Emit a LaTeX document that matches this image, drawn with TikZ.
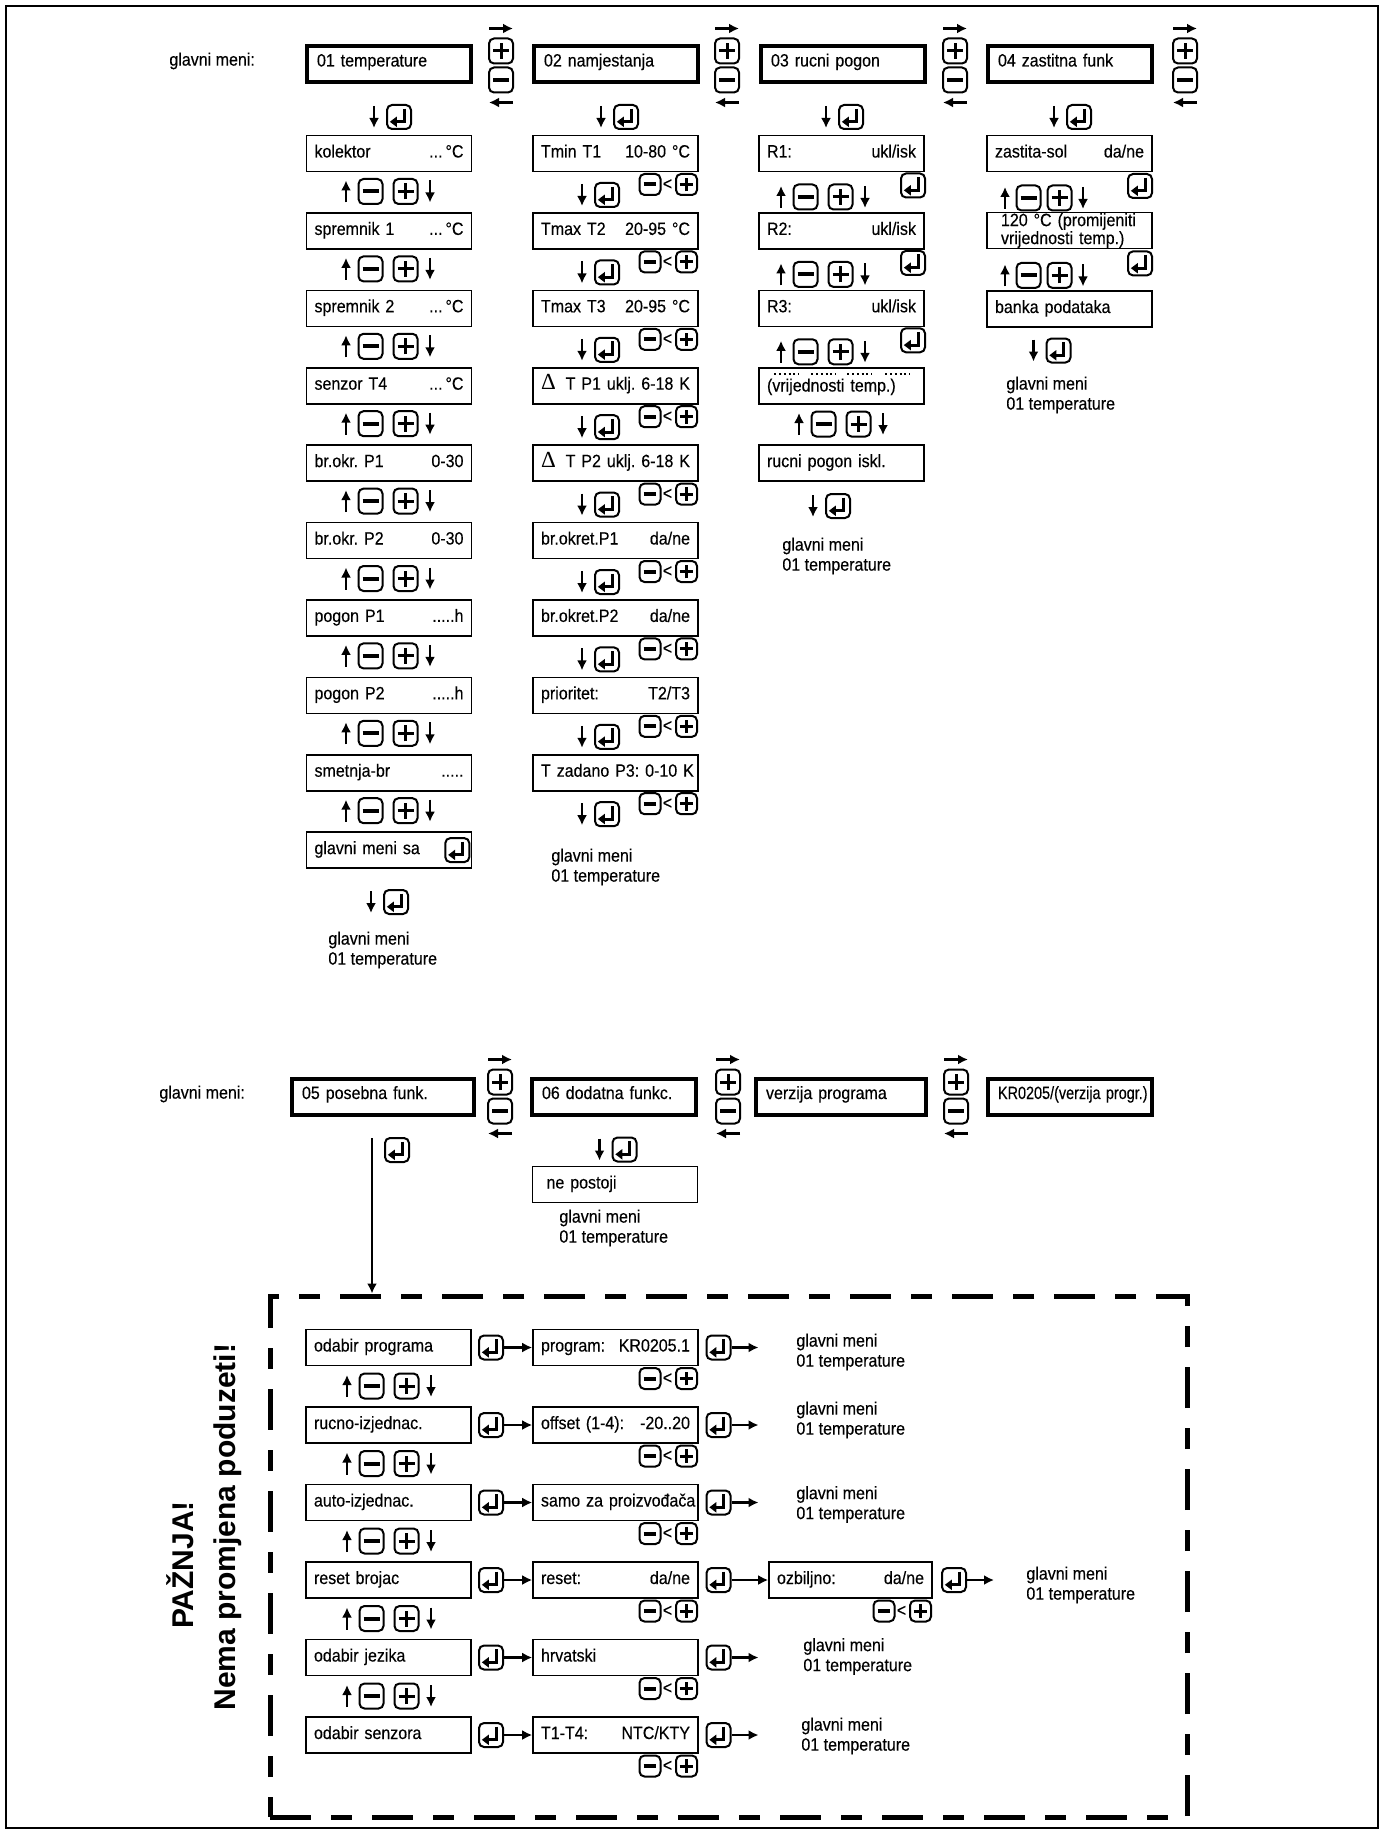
\documentclass[tikz,border=0pt]{standalone}
\usepackage{fontspec}
\setmainfont{Liberation Sans}[FakeStretch=0.9,FakeBold=0.3]
\newfontfamily\warnfont{Liberation Sans}
\newfontfamily\deltafont{Liberation Serif}
\usepackage{graphicx}
\usetikzlibrary{arrows.meta,calc}
\newcommand\threedots{...}
\newcommand\fivedots{.....}
\newcommand\dlt{{\deltafont\fontsize{11.5}{10}\selectfont Δ}}
\frenchspacing

\begin{document}
\begin{tikzpicture}[x=0.5pt,y=-0.5pt,
    font=\fontsize{8.9}{10}\selectfont,
    arr/.style={line width=1.1pt,-{Latex[length=5pt,width=5pt]}},
    btn/.style={draw,line width=1pt,rounded corners=2.5pt,inner sep=0pt,
      minimum width=12pt,minimum height=12.5pt},
    sbtn/.style={btn,minimum width=10.5pt,minimum height=10.5pt},
    plusmark/.style={path picture={\draw[line width=1.5pt,shift={(path picture bounding box.center)}]
      (-#1,0pt) -- (#1,0pt) (0pt,-#1) -- (0pt,#1);}},
    minusmark/.style={path picture={\draw[line width=2pt,shift={(path picture bounding box.center)}]
      (-#1,0pt) -- (#1,0pt);}},
    pluskey/.style={btn,plusmark=4pt},
    minuskey/.style={btn,minusmark=4pt},
    spluskey/.style={sbtn,plusmark=3.4pt},
    sminuskey/.style={sbtn,minusmark=3.2pt},
    enterkey/.style={btn,minimum height=12pt,path picture={\draw[line width=1.5pt,sharp corners,
      -{Triangle[length=3.5pt,width=5pt]},shift={(path picture bounding box.center)}]
      (2.6pt,4.2pt) -- (2.6pt,-2.4pt) -- (-4.6pt,-2.4pt);}},
    mainbox/.style={draw,line width=2pt,minimum width=82pt,minimum height=18pt,
      inner xsep=5pt,inner ysep=0pt,text width=72pt,align=left,text height=6.5pt,text depth=4pt},
    boxbase/.style={draw,line width=0.8pt,minimum width=82.5pt,minimum height=18pt,
      inner xsep=4pt,inner ysep=0pt,text width=74.5pt,align=left},
    subbox/.style={boxbase,text height=6.2pt,text depth=2.2pt},
    backtext/.style={align=left,anchor=west,inner sep=0pt},
    warnbox/.style={draw,line width=2.5pt,dash pattern=on 20.5pt off 10pt on 10.5pt off 10pt,
      minimum width=458.5pt,minimum height=260.5pt,inner sep=0pt},
    warntext/.style={rotate=90,inner sep=0pt,font=\warnfont\bfseries\fontsize{15}{18}\selectfont},
    updown/.pic={
      \node[minuskey] (-m) at (-17.5,0) {};
      \node[pluskey] (-p) at (17.5,0) {};
      \draw[arr] (-42,11) -- (-42,-11);
      \draw[arr] (42,-11) -- (42,11);
    },
    updowntight/.pic={
      \node[minuskey] (-m) at (-15.5,0) {};
      \node[pluskey] (-p) at (15.5,0) {};
      \draw[arr] (-39,11) -- (-39,-11);
      \draw[arr] (39,-11) -- (39,11);
    },
    lessgroup/.pic={
      \node[sminuskey] (-m) at (-18,0) {};
      \node[inner sep=0pt] (-l) at (-0.5,0) {<};
      \node[spluskey] (-p) at (18.5,0) {};
    },
    downenter/.pic={
      \node[enterkey] (-e) at (0,0) {};
      \draw[arr] (-25,-11) -- (-25,11);
    },
    navkeys/.pic={
      \node[pluskey] (-p) at (0,-14.5) {};
      \node[minuskey] (-m) at (0,14.5) {};
      \draw[arr] (-12,-37) -- (12,-37);
      \draw[arr] (12,37) -- (-12,37);
    }]
  \useasboundingbox (0,0) rectangle (1380,1830);
  \draw[line width=0.6pt] (6,6) rectangle (1378,1828);

  \node[backtext] (gm1) at (169,61) {glavni meni:};
  \foreach \t [count=\i] in {01 temperature,02 namjestanja,03 rucni pogon,04 zastitna funk}
    \node[mainbox] (m\i) at ({389+227*(\i-1)},64) {\t};
  \foreach \x [count=\i] in {501,727,955,1185}
    \pic (nav\i) at (\x,65.5) {navkeys};
  \foreach \x [count=\i] in {399,626,851,1079}
    \pic (in\i) at (\x,117) {downenter};

  \foreach \t [count=\i from 0] in {kolektor\hfill\threedots\,°C,spremnik 1\hfill\threedots\,°C,
      spremnik 2\hfill\threedots\,°C,senzor T4\hfill\threedots\,°C,br.okr. P1\hfill 0-30,
      br.okr. P2\hfill 0-30,pogon P1\hfill\fivedots h,pogon P2\hfill\fivedots h,
      smetnja-br\hfill\fivedots\hspace*{4pt},glavni meni sa}
    \node[subbox] (a\i) at (389,{153.5+77.4*\i}) {\t};
  \foreach \i in {0,...,8}
    \pic (ua\i) at (388,{191.5+77.4*\i}) {updown};
  \node[enterkey] (ea) at ([xshift=-7.5pt]a9.east) {};
  \pic (oa) at (396,902) {downenter};
  \node[backtext] (ga) at (328,950) {glavni meni\\01 temperature};

  \foreach \t [count=\i from 0] in {Tmin T1\hfill 10-80 °C,Tmax T2\hfill 20-95 °C,
      Tmax T3\hfill 20-95 °C,\dlt\hfill T P1 uklj. 6-18 K,\dlt\hfill T P2 uklj. 6-18 K,
      br.okret.P1\hfill da/ne\hspace*{3pt},br.okret.P2\hfill da/ne\hspace*{3pt},
      prioritet:\hfill T2/T3\hspace*{3pt},\mbox{T zadano P3: 0-10 K}}
    \node[subbox] (b\i) at (615.5,{153.5+77.4*\i}) {\t};
  \foreach \i in {0,...,8}{
    \pic (eb\i) at (607,{195+77.4*\i}) {downenter};
    \pic (lb\i) at (668,{184.5+77.4*\i}) {lessgroup};
  }
  \node[backtext] (gb) at (551,867) {glavni meni\\01 temperature};

  \node[subbox] (c0) at (841.5,153.5) {R1:\hfill ukl/isk};
  \node[subbox] (c1) at (841.5,230.9) {R2:\hfill ukl/isk\hspace*{3pt}};
  \node[subbox] (c2) at (841.5,308.3) {R3:\hfill ukl/isk\hspace*{2pt}};
  \node[subbox,text depth=0.4pt] (c3) at (841.5,385.7) {(vrijednosti temp.)};
  \node[subbox] (c4) at (841.5,463.1) {rucni pogon iskl.};
  \foreach \a in {16,53,89,127}
    \draw[line width=1pt,dash pattern=on 1pt off 1.4pt] ($(c3.north west)+(\a,7)$) -- ++(25,0);
  \foreach \i in {0,1,2}{
    \node[enterkey] (ec\i) at (913,{185.5+77.4*\i}) {};
    \pic (uc\i) at (823,{197+77.4*\i}) {updown};
  }
  \pic (uc3) at (841,424) {updown};
  \pic (oc) at (838,506) {downenter};
  \node[backtext] (gc) at (782,556) {glavni meni\\01 temperature};

  \node[subbox] (d0) at (1069.5,153.5) {zastita-sol\hfill da/ne};
  \node[boxbase] (d1) at (1069.5,230.5) {\hspace*{3pt}120 °C (promijeniti\\[-1pt]\hspace*{3pt}vrijednosti temp.)};
  \node[subbox] (d2) at (1069.5,309) {banka podataka};
  \foreach \i in {0,1}{
    \node[enterkey] (ed\i) at (1140,{186+77.4*\i}) {};
    \pic (ud\i) at (1044,{198+77.4*\i}) {updowntight};
  }
  \pic (od) at (1058.5,350.5) {downenter};
  \node[backtext] (gd) at (1006,395) {glavni meni\\01 temperature};

  \node[backtext] (gm2) at (159,1094) {glavni meni:};
  \node[mainbox,minimum width=91pt,text width=81pt] (m5) at (383,1096.5) {05 posebna funk.};
  \node[mainbox] (m6) at (614,1096.5) {06 dodatna funkc.};
  \node[mainbox,minimum width=85pt,text width=75pt] (m7) at (841,1096.5) {verzija programa};
  \node[mainbox] (m8) at (1070,1096.5) {\scalebox{0.9}[1]{KR0205/(verzija progr.)}};
  \foreach \x [count=\i from 5] in {500,728,956}
    \pic (nav\i) at (\x,1096.5) {navkeys};
  \node[enterkey] (e5) at (397,1150) {};
  \coordinate (s5) at (372,1138);
  \pic (in6) at (624.5,1149.5) {downenter};
  \node[subbox] (n6) at (615,1184.5) {\hspace*{3pt}ne postoji};
  \node[backtext] (g6) at (559,1228) {glavni meni\\01 temperature};

  \node[warnbox] (w) at (728.5,1556.5) {};
  \draw[arr] (s5) -- (s5 |- w.north);
  \node[warntext] (w1) at (180,1565) {PAŽNJA!};
  \node[warntext] (w2) at (228,1527) {Nema promjena poduzeti!};

  \foreach \t [count=\i from 0] in {odabir programa,rucno-izjednac.,auto-izjednac.,
      reset brojac,odabir jezika,odabir senzora}
    \node[subbox] (l\i) at (388.5,{1347.5+77.5*\i}) {\t};
  \foreach \t [count=\i from 0] in {program:\hfill KR0205.1,offset (1-4):\hfill -20..20,
      \mbox{samo za proizvođača},reset:\hfill da/ne,hrvatski,T1-T4:\hfill NTC/KTY}
    \node[subbox] (r\i) at (615.5,{1347.5+77.5*\i}) {\t};
  \foreach \i in {0,...,4}
    \pic (ul\i) at (389,{1386+77.5*\i}) {updown};
  \foreach \i in {0,...,5}{
    \pic (lr\i) at (668,{1378.5+77.5*\i}) {lessgroup};
    \node[enterkey] (el\i) at (491,{1347.5+77.5*\i}) {};
    \node[enterkey] (er\i) at (718.5,{1347.5+77.5*\i}) {};
    \draw[arr] (el\i) -- (r\i);
  }
  \foreach \i/\x/\y in {0/796/1352,1/796/1420,2/796/1504.5,4/803/1656.5,5/801/1736}{
    \node[backtext] (gr\i) at (\x,\y) {glavni meni\\01 temperature};
    \draw[arr] (er\i.east) -- ++(27,0);
  }
  \node[subbox,minimum width=81.5pt,text width=73.5pt] (oz) at (850.5,1580) {ozbiljno:\hfill da/ne};
  \draw[arr] (er3) -- (oz);
  \pic (lz) at (902,1611) {lessgroup};
  \node[enterkey] (ez) at (954,1580) {};
  \draw[arr] (ez.east) -- ++(27,0);
  \node[backtext] (gz) at (1026,1585) {glavni meni\\01 temperature};
\end{tikzpicture}
\end{document}
